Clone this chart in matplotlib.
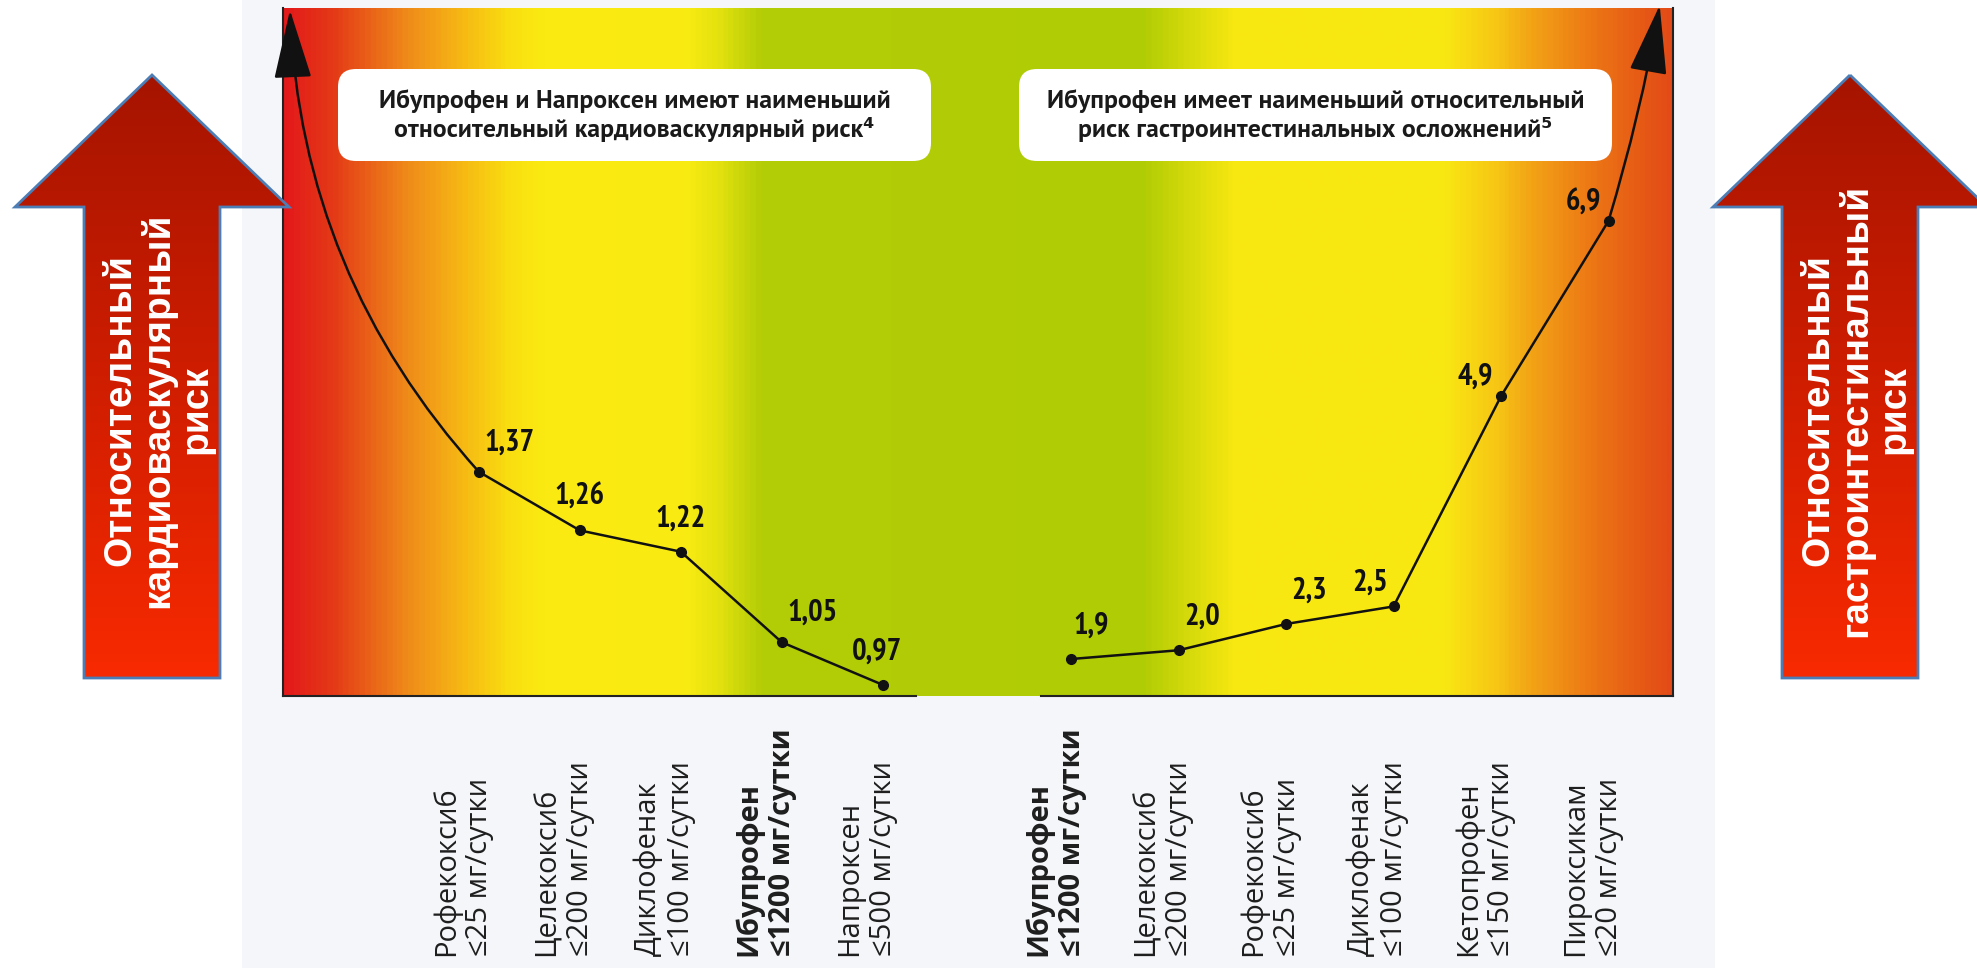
import numpy as np
import matplotlib
matplotlib.use('Agg')
import matplotlib.pyplot as plt
from matplotlib import transforms
from matplotlib.colors import LinearSegmentedColormap
from matplotlib.patches import Polygon, FancyBboxPatch, Rectangle

# --- данные ---
cv_drugs = ['Рофекоксиб\n≤25 мг/сутки', 'Целекоксиб\n≤200 мг/сутки', 'Диклофенак\n≤100 мг/сутки',
            'Ибупрофен\n≤1200 мг/сутки', 'Напроксен\n≤500 мг/сутки']
cv_risk = [1.37, 1.26, 1.22, 1.05, 0.97]

gi_drugs = ['Ибупрофен\n≤1200 мг/сутки', 'Целекоксиб\n≤200 мг/сутки', 'Рофекоксиб\n≤25 мг/сутки',
            'Диклофенак\n≤100 мг/сутки', 'Кетопрофен\n≤150 мг/сутки', 'Пироксикам\n≤20 мг/сутки']
gi_risk = [1.9, 2.0, 2.3, 2.5, 4.9, 6.9]

cv_title = 'Ибупрофен и Напроксен имеют наименьший\nотносительный кардиоваскулярный риск⁴'
gi_title = 'Ибупрофен имеет наименьший относительный\nриск гастроинтестинальных осложнений⁵'
cv_axis = 'Относительный\nкардиоваскулярный\nриск'
gi_axis = 'Относительный\nгастроинтестинальный\nриск'
highlight = 'Ибупрофен'

# размещение подписей значений (смещение в pt, выравнивание)
cv_lbl = [(4, 11, 'left'), (0, 14, 'center'), (0, 14, 'center'), (4, 11, 'left'), (-4, 14, 'center')]
gi_lbl = [(2, 14, 'left'), (4, 14, 'left'), (4, 14, 'left'), (-4, 7, 'right'), (-6, 4, 'right'), (-5, 3, 'right')]

# цвета фона: красный - жёлтый - зелёный - жёлтый - красный
bg_stops = [(0.0, '#e3191a'), (0.034, '#e43a17'), (0.087, '#ef8a1a'), (0.127, '#f6b814'),
            (0.161, '#f9de10'), (0.185, '#fbea12'), (0.289, '#f9ec12'), (0.314, '#e2e00e'),
            (0.344, '#b3cd07'), (0.619, '#b0cc05'), (0.653, '#d6da0b'), (0.686, '#f8e811'),
            (0.837, '#f9e812'), (0.876, '#f7c515'), (0.902, '#f2a116'), (0.947, '#ec7414'),
            (1.0, '#e34a17')]

W, H = 1977, 968
fig = plt.figure(figsize=(W / 100, H / 100), dpi=100)
fig.patch.set_facecolor('white')


def px_axes(x0, y0, x1, y1, z):
    return fig.add_axes([x0 / W, 1 - y1 / H, (x1 - x0) / W, (y1 - y0) / H], zorder=z)


base = fig.add_axes([0, 0, 1, 1], zorder=0)
base.add_patch(Rectangle((242, 0), 1473, H, color='#f4f6f9', lw=0))
base.set_xlim(0, W); base.set_ylim(H, 0); base.axis('off')

bg = px_axes(283, 8, 1673, 696, 1)
bg.imshow(np.linspace(0, 1, 1000)[None, :], cmap=LinearSegmentedColormap.from_list('risk', bg_stops),
          aspect='auto', extent=[0, 1, 0, 1])
bg.axis('off')

ax_cv = px_axes(283, 8, 916, 696, 2)
ax_gi = px_axes(1041, 8, 1673, 696, 2)
panels = [(ax_cv, cv_drugs, cv_risk, cv_lbl, '{:.2f}', (-1.94, 4.33), (0.949, 2.241), 'right'),
          (ax_gi, gi_drugs, gi_risk, gi_lbl, '{:.1f}', (-0.28, 5.6), (1.478, 9.33), 'left')]

for ax, drugs, risk, lbl, fmt, xl, yl, hidden in panels:
    ax.set_facecolor('none')
    x = np.arange(len(risk))
    ax.plot(x, risk, '-', color='#111111', lw=1.8, solid_capstyle='round')
    ax.plot(x, risk, 'o', color='#111111', ms=7)
    for i, v in enumerate(risk):
        dx, dy, ha = lbl[i]
        ax.annotate(fmt.format(v).replace('.', ','), (i, v), xytext=(dx, dy), textcoords='offset points',
                    ha=ha, va='bottom', fontsize=22, fontweight='bold',
                    family=['PT Sans Narrow', 'DejaVu Sans'], color='#111111')
    trans = transforms.offset_copy(transforms.blended_transform_factory(ax.transData, fig.transFigure),
                                   fig=fig, x=-16, units='dots')
    for i, name in enumerate(drugs):
        ax.text(i, 1 - 956 / H, name, transform=trans, rotation=90, ha='center', va='bottom',
                multialignment='left', linespacing=1.2, fontsize=21, color='#1e1e1e',
                fontweight='bold' if name.startswith(highlight) else 'normal',
                family=['Open Sans', 'DejaVu Sans'])
    ax.set_xlim(*xl); ax.set_ylim(*yl)
    ax.set_xticks([]); ax.set_yticks([])
    for s in ['top', hidden]:
        ax.spines[s].set_visible(False)
    for s in ax.spines.values():
        s.set_linewidth(1.5); s.set_color('#222222')

arrow_kw = dict(arrowstyle='-|>,head_length=2.2,head_width=0.6', mutation_scale=20, color='#111111',
                lw=1.8, shrinkA=0, shrinkB=0)
ax_cv.annotate('', xy=(0.011, 0.997), xycoords='axes fraction', xytext=(0, cv_risk[0]), textcoords='data',
               arrowprops=dict(connectionstyle='arc3,rad=-0.18', **arrow_kw), annotation_clip=False)
ax_gi.annotate('', xy=(0.979, 1.004), xycoords='axes fraction', xytext=(len(gi_risk) - 1, gi_risk[-1]),
               textcoords='data', arrowprops=dict(connectionstyle='arc3,rad=0.03', **arrow_kw),
               annotation_clip=False)

# --- верхний слой: стрелки по бокам и плашки с текстом ---
top = fig.add_axes([0, 0, 1, 1], zorder=3)
top.axis('off')
arrow_cmap = LinearSegmentedColormap.from_list('arr', ['#a51400', '#cf1d00', '#f82a00'])
for cx, text in [(152, cv_axis), (1850, gi_axis)]:
    pts = [(cx, 75), (cx + 137, 207), (cx + 68, 207), (cx + 68, 678), (cx - 68, 678), (cx - 68, 207), (cx - 137, 207)]
    clip = Polygon(pts, closed=True, fc='none', ec='none')
    top.add_patch(clip)
    im = top.imshow(np.linspace(0, 1, 256)[:, None], cmap=arrow_cmap, aspect='auto',
                    extent=[cx - 137, cx + 137, 678, 75])
    im.set_clip_path(clip)
    top.add_patch(Polygon(pts, closed=True, fill=False, ec='#4d7db5', lw=2, joinstyle='miter'))
    top.text(cx + 6, 410, text, rotation=90, ha='center', va='center', multialignment='center',
             color='white', fontsize=28, fontweight='bold', family=['Liberation Sans', 'DejaVu Sans'],
             linespacing=1.05)

for x0, text in [(338, cv_title), (1019, gi_title)]:
    top.add_patch(FancyBboxPatch((x0, 69), 593, 92, boxstyle='round,pad=0,rounding_size=18',
                                 fc='white', ec='none'))
    top.text(x0 + 296.5, 116, text, ha='center', va='center', multialignment='center', fontsize=18.5,
             fontweight='bold', family=['PT Sans', 'DejaVu Sans'], color='#1a1a1a', linespacing=1.2)

top.set_xlim(0, W); top.set_ylim(H, 0)

fig.savefig('out.png', dpi=100, facecolor='white')
